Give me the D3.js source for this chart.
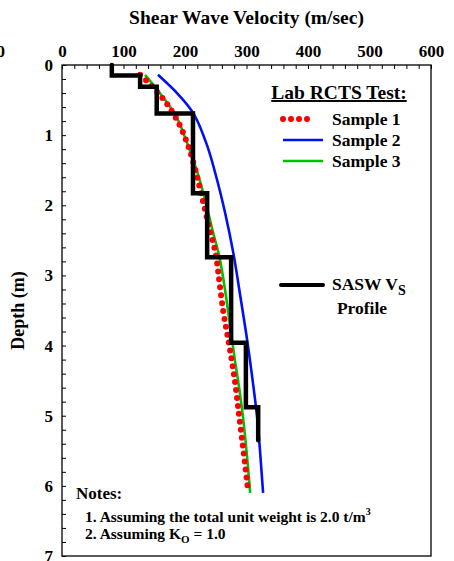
<!DOCTYPE html>
<html>
<head>
<meta charset="utf-8">
<script src="https://cdn.jsdelivr.net/npm/d3@7"></script>
<style>
	html, body { margin: 0; padding: 0; background: #fff; }
	#chart { width: 454px; height: 561px; }
	text { font-family: 'Liberation Serif', 'Times New Roman', serif; font-weight: bold; fill: #000; }
</style>
</head>
<body>
<div id="chart"></div>
<script>
//data
const velTicks = [0, 100, 200, 300, 400, 500, 600];
const depthTicks = [0, 1, 2, 3, 4, 5, 6, 7];

// SASW Vs profile: layer tops (m) and layer velocities (m/sec)
const sasTop = [0, 0.15, 0.31, 0.69, 1.83, 2.74, 3.96, 4.88];
const sasVel = [81, 127, 154, 213, 236, 275, 299, 319];
const sasBottom = 5.35;

// lab RCTS samples
const s1Depth = [0.14, 0.3, 0.5, 0.8, 1.1, 1.5, 1.9, 2.3, 2.7, 3.1, 3.5, 4.0, 4.5, 5.0, 5.5, 6.1];
const s1Vel = [127, 146, 166, 188, 203, 217, 228, 239, 250, 256, 262, 272, 281, 288, 295, 303];
const s2Depth = [0.14, 0.4, 0.64, 1.1, 1.6, 2.1, 2.7, 3.3, 3.8, 4.5, 5.0, 5.5, 6.1];
const s2Vel = [156, 187, 210, 234, 251, 265, 279, 290, 299, 310, 317, 322, 327];
const s3Depth = [0.14, 0.4, 0.69, 1.1, 1.5, 1.9, 2.4, 2.7, 3.2, 3.7, 4.2, 4.6, 5.0, 5.5, 6.1];
const s3Vel = [135, 159, 183, 203, 219, 232, 246, 255, 265, 273, 281, 288, 294, 300, 306];

const legendNames = ['Sample 1', 'Sample 2', 'Sample 3'];

render();

function render() {
	const margin = { top: 65, right: 23, bottom: 5, left: 62 };
	const width = 454;
	const height = 561;
	const innerW = width - margin.left - margin.right;
	const innerH = height - margin.top - margin.bottom;

	const x = d3.scaleLinear().domain([0, 600]).range([0, innerW]);
	const y = d3.scaleLinear().domain([0, 7]).range([0, innerH]);

	const svg = d3.select('#chart').append('svg')
		.attr('width', width)
		.attr('height', height);

	// leftover label from neighbouring panel
	svg.append('text')
		.attr('x', 5)
		.attr('y', 57)
		.attr('text-anchor', 'end')
		.style('font-size', '17px')
		.text('600');

	svg.append('text')
		.attr('x', margin.left + innerW / 2)
		.attr('y', 24)
		.attr('text-anchor', 'middle')
		.style('font-size', '19.5px')
		.text('Shear Wave Velocity (m/sec)');

	svg.append('text')
		.attr('transform', translation(24, margin.top + innerH / 2) + ' rotate(-90)')
		.attr('text-anchor', 'middle')
		.style('font-size', '18px')
		.text('Depth (m)');

	const g = svg.append('g').attr('transform', translation(margin.left, margin.top));

	//axes
	const minorX = d3.axisTop(x).tickValues(d3.range(0, 601, 20)).tickSize(-4).tickFormat('');
	const majorX = d3.axisTop(x).tickValues(velTicks).tickSize(0).tickPadding(8).tickFormat(d3.format('d'));
	const minorY = d3.axisLeft(y).tickValues(d3.range(0, 7.01, 0.2)).tickSize(-4).tickFormat('');
	const majorY = d3.axisLeft(y).tickValues(depthTicks).tickSize(0).tickPadding(9).tickFormat(d3.format('d'));

	[minorX, majorX].forEach((ax) => {
		const a = g.append('g').call(ax);
		a.select('.domain').remove();
		a.selectAll('line').attr('stroke', '#000').attr('stroke-width', 1);
		a.selectAll('text').style('font-size', '17px').attr('font-family', null);
	});
	[minorY, majorY].forEach((ax) => {
		const a = g.append('g').call(ax);
		a.select('.domain').remove();
		a.selectAll('line').attr('stroke', '#000').attr('stroke-width', 1);
		a.selectAll('text').style('font-size', '17px').attr('font-family', null);
	});

	g.append('rect')
		.attr('width', innerW)
		.attr('height', innerH)
		.attr('fill', 'none')
		.attr('stroke', '#000')
		.attr('stroke-width', 1.3);

	//curves
	const line = d3.line()
		.x((d) => x(d.v))
		.y((d) => y(d.d))
		.curve(d3.curveMonotoneY);

	const zip = (ds, vs) => ds.map((d, i) => ({ d: d, v: vs[i] }));

	g.append('path')
		.attr('d', line(zip(s2Depth, s2Vel)))
		.attr('fill', 'none')
		.attr('stroke', '#0010f0')
		.attr('stroke-width', 2.6);

	g.append('path')
		.attr('d', line(zip(s3Depth, s3Vel)))
		.attr('fill', 'none')
		.attr('stroke', '#00c000')
		.attr('stroke-width', 2.6);

	g.append('path')
		.attr('d', line(zip(s1Depth, s1Vel)))
		.attr('fill', 'none')
		.attr('stroke', '#ff0000')
		.attr('stroke-width', 6)
		.attr('stroke-linecap', 'round')
		.attr('stroke-dasharray', '0,8');

	// SASW step profile
	const sasPts = zip(sasTop, sasVel).concat([{ d: sasBottom, v: sasVel[sasVel.length - 1] }]);
	const stepLine = d3.line()
		.x((d) => x(d.v))
		.y((d) => y(d.d))
		.curve(d3.curveStepBefore);

	g.append('path')
		.attr('d', stepLine(sasPts))
		.attr('fill', 'none')
		.attr('stroke', '#000')
		.attr('stroke-width', 4.5)
		.attr('stroke-linecap', 'round')
		.attr('stroke-linejoin', 'miter');

	//legend
	const legendTitle = svg.append('text')
		.attr('x', 339)
		.attr('y', 99)
		.attr('text-anchor', 'middle')
		.style('font-size', '19.5px')
		.style('text-decoration', 'underline')
		.text('Lab RCTS Test:');

	const legendStyles = [
		{ color: '#ff0000', width: 6, dash: '0,8', cap: 'round' },
		{ color: '#0010f0', width: 2.6, dash: null, cap: 'butt' },
		{ color: '#00c000', width: 2.6, dash: null, cap: 'butt' },
	];

	legendNames.forEach((name, i) => {
		const ly = 119 + i * 21;
		const st = legendStyles[i];
		svg.append('line')
			.attr('x1', 283)
			.attr('x2', i === 0 ? 315 : 323)
			.attr('y1', ly)
			.attr('y2', ly)
			.attr('stroke', st.color)
			.attr('stroke-width', st.width)
			.attr('stroke-linecap', st.cap)
			.attr('stroke-dasharray', st.dash);
		svg.append('text')
			.attr('x', 332)
			.attr('y', ly + 6)
			.style('font-size', '17.5px')
			.text(name);
	});

	svg.append('line')
		.attr('x1', 281)
		.attr('x2', 323)
		.attr('y1', 285)
		.attr('y2', 285)
		.attr('stroke', '#000')
		.attr('stroke-width', 4)
		.attr('stroke-linecap', 'round');

	const sasw = svg.append('text')
		.attr('x', 332)
		.attr('y', 290)
		.style('font-size', '17.5px');
	sasw.append('tspan').text('SASW V');
	sasw.append('tspan').attr('dy', 5).style('font-size', '14px').text('S');

	svg.append('text')
		.attr('x', 362)
		.attr('y', 314)
		.attr('text-anchor', 'middle')
		.style('font-size', '17.5px')
		.text('Profile');

	//notes
	svg.append('text')
		.attr('x', 76)
		.attr('y', 499)
		.style('font-size', '17px')
		.text('Notes:');

	const note1 = svg.append('text')
		.attr('x', 85)
		.attr('y', 522)
		.style('font-size', '15.5px');
	note1.append('tspan').text('1. Assuming the total unit weight is 2.0 t/m');
	note1.append('tspan').attr('dy', -7).style('font-size', '10px').text('3');

	const note2 = svg.append('text')
		.attr('x', 85)
		.attr('y', 539)
		.style('font-size', '15.5px');
	note2.append('tspan').text('2. Assuming K');
	note2.append('tspan').attr('dy', 4).style('font-size', '11px').text('O');
	note2.append('tspan').attr('dy', -4).text(' = 1.0');
}

//utils
function translation(x, y) {
	return `translate(${x}, ${y})`;
}
</script>
</body>
</html>
